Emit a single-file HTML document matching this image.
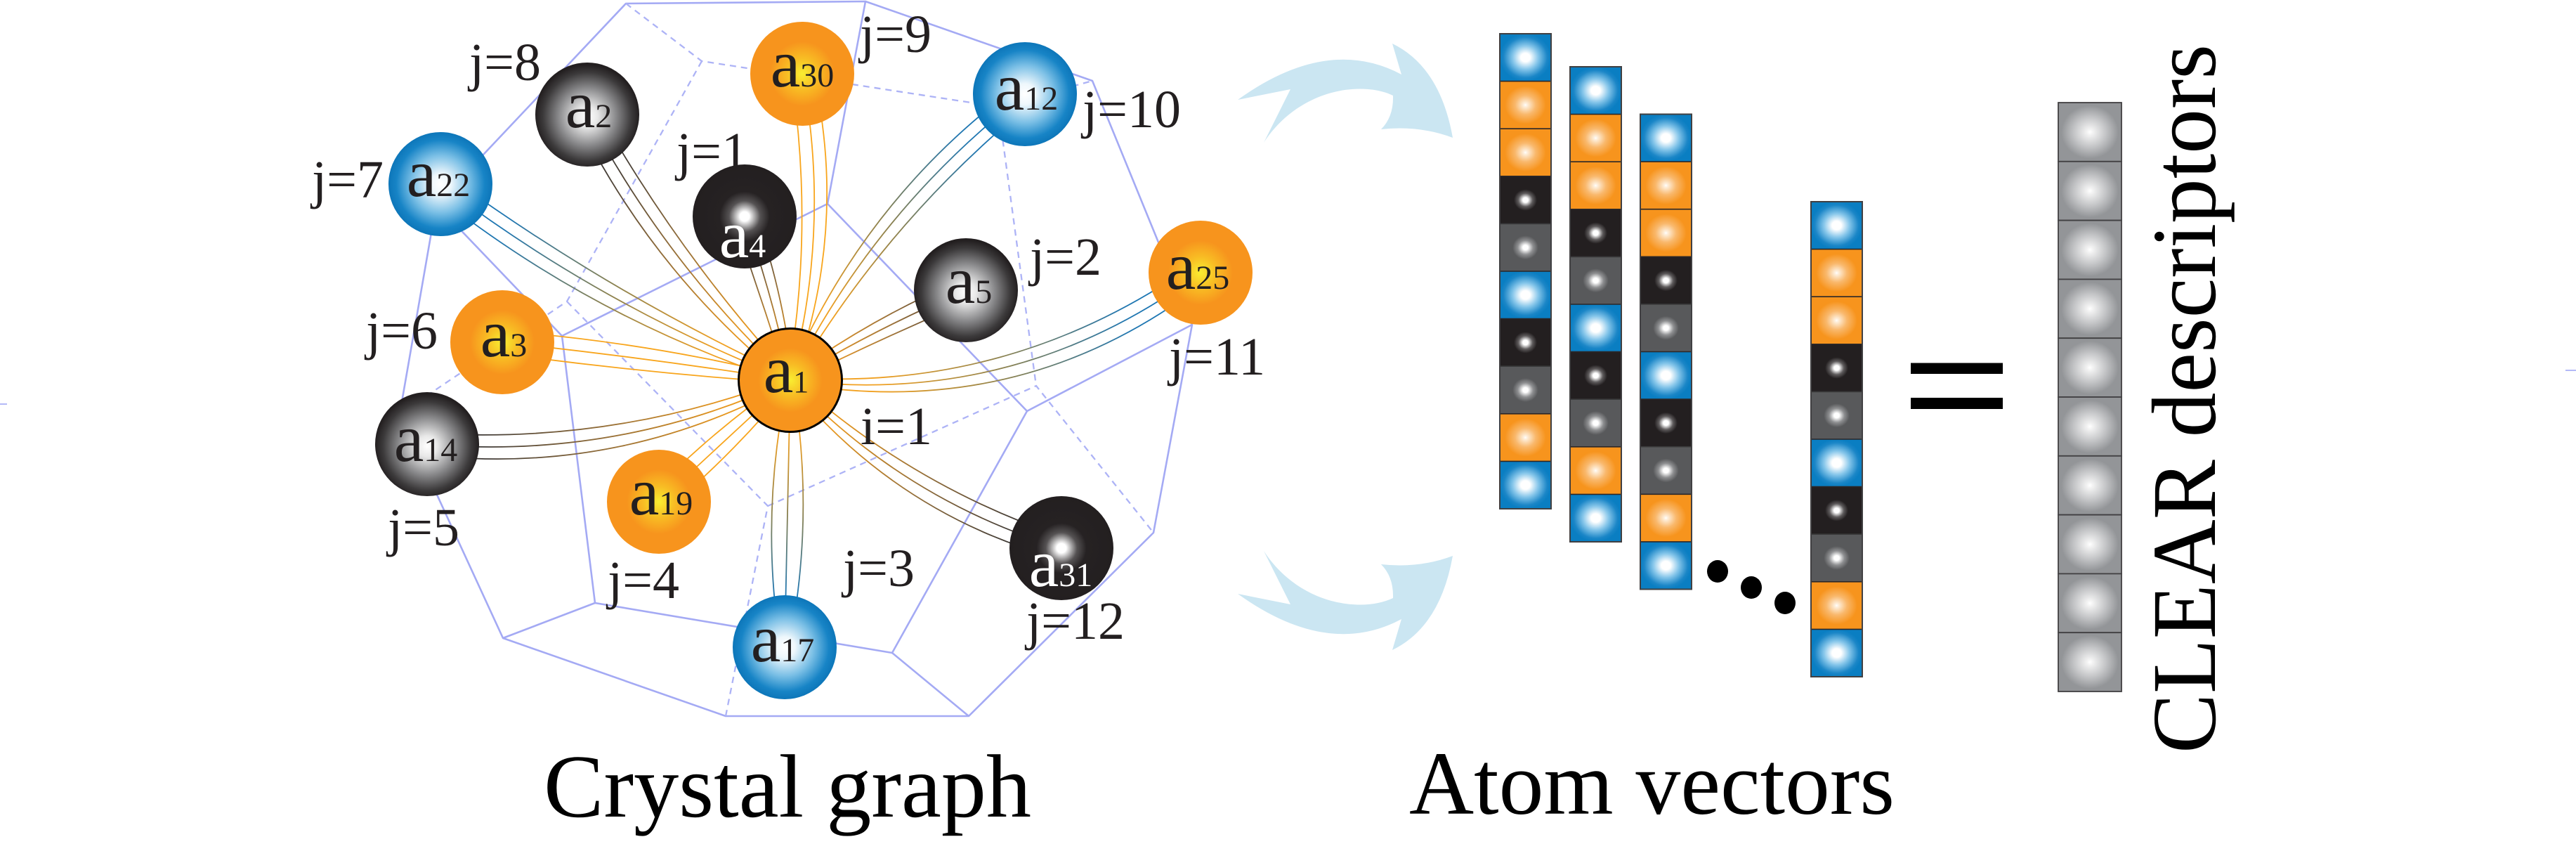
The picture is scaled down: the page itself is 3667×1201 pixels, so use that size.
<!DOCTYPE html>
<html><head><meta charset="utf-8"><style>
html,body{margin:0;padding:0;background:#fff;}
body{width:3667px;height:1201px;overflow:hidden;}
svg{display:block;}
text{font-family:"Liberation Serif","Times New Roman",serif;fill:#231f20;}
</style></head><body>
<svg width="3667" height="1201" viewBox="0 0 3667 1201" xmlns="http://www.w3.org/2000/svg" font-family="Liberation Serif, serif">
<defs>
<radialGradient id="nO" cx="50%" cy="50%" r="50%"><stop offset="0" stop-color="#f9ee31"/><stop offset="0.3" stop-color="#f8bd24"/><stop offset="0.62" stop-color="#f7941d"/><stop offset="1" stop-color="#f7941d"/></radialGradient>
<radialGradient id="nB" cx="50%" cy="50%" r="50%"><stop offset="0" stop-color="#ffffff"/><stop offset="0.2" stop-color="#eef7fc"/><stop offset="0.55" stop-color="#7cc0e6"/><stop offset="0.85" stop-color="#1784c6"/><stop offset="1" stop-color="#0d76b9"/></radialGradient>
<radialGradient id="nG" cx="50%" cy="52%" r="50%"><stop offset="0" stop-color="#ffffff"/><stop offset="0.2" stop-color="#e8e8e8"/><stop offset="0.55" stop-color="#8a8a8c"/><stop offset="0.85" stop-color="#3c3a3b"/><stop offset="1" stop-color="#231f20"/></radialGradient>
<radialGradient id="nK" cx="50%" cy="50%" r="50%"><stop offset="0" stop-color="#ffffff"/><stop offset="0.09" stop-color="#ffffff"/><stop offset="0.3" stop-color="#555253"/><stop offset="0.48" stop-color="#262223"/><stop offset="1" stop-color="#231f20"/></radialGradient>

<radialGradient id="cB" cx="50%" cy="50%" r="50%"><stop offset="0" stop-color="#ffffff"/><stop offset="0.18" stop-color="#ffffff"/><stop offset="0.5" stop-color="#86c6ea"/><stop offset="0.85" stop-color="#1b86c7"/><stop offset="1" stop-color="#0a7ec2"/></radialGradient>
<radialGradient id="cO" cx="50%" cy="50%" r="50%"><stop offset="0" stop-color="#ffffff"/><stop offset="0.06" stop-color="#fef1e0"/><stop offset="0.4" stop-color="#f9b86c"/><stop offset="0.8" stop-color="#f7941d"/><stop offset="1" stop-color="#f7941d"/></radialGradient>
<radialGradient id="cK" cx="50%" cy="50%" r="50%"><stop offset="0" stop-color="#ffffff"/><stop offset="0.1" stop-color="#ffffff"/><stop offset="0.28" stop-color="#5e5b5c"/><stop offset="0.45" stop-color="#231f20"/><stop offset="1" stop-color="#231f20"/></radialGradient>
<radialGradient id="cG" cx="50%" cy="50%" r="50%"><stop offset="0" stop-color="#ffffff"/><stop offset="0.1" stop-color="#ffffff"/><stop offset="0.3" stop-color="#8e8f91"/><stop offset="0.5" stop-color="#58595b"/><stop offset="1" stop-color="#58595b"/></radialGradient>
<radialGradient id="cC" cx="50%" cy="50%" r="50%"><stop offset="0" stop-color="#ffffff"/><stop offset="0.1" stop-color="#f2f2f2"/><stop offset="0.5" stop-color="#c4c5c7"/><stop offset="0.9" stop-color="#939598"/><stop offset="1" stop-color="#939598"/></radialGradient>

<linearGradient id="g12" gradientUnits="userSpaceOnUse" x1="1125" y1="541" x2="1459" y2="134"><stop offset="0" stop-color="#f7a21c"/><stop offset="0.2" stop-color="#f0a021"/><stop offset="0.5" stop-color="#8a8150"/><stop offset="0.8" stop-color="#2277b0"/><stop offset="1" stop-color="#0f74b8"/></linearGradient>
<linearGradient id="g22" gradientUnits="userSpaceOnUse" x1="1125" y1="541" x2="627" y2="262"><stop offset="0" stop-color="#f7a21c"/><stop offset="0.2" stop-color="#f0a021"/><stop offset="0.5" stop-color="#8a8150"/><stop offset="0.8" stop-color="#2277b0"/><stop offset="1" stop-color="#0f74b8"/></linearGradient>
<linearGradient id="g25" gradientUnits="userSpaceOnUse" x1="1125" y1="541" x2="1709" y2="388"><stop offset="0" stop-color="#f7a21c"/><stop offset="0.2" stop-color="#f0a021"/><stop offset="0.5" stop-color="#8a8150"/><stop offset="0.8" stop-color="#2277b0"/><stop offset="1" stop-color="#0f74b8"/></linearGradient>
<linearGradient id="g17" gradientUnits="userSpaceOnUse" x1="1125" y1="541" x2="1117" y2="921"><stop offset="0" stop-color="#f7a21c"/><stop offset="0.2" stop-color="#f0a021"/><stop offset="0.5" stop-color="#8a8150"/><stop offset="0.8" stop-color="#2277b0"/><stop offset="1" stop-color="#0f74b8"/></linearGradient>
<linearGradient id="g2" gradientUnits="userSpaceOnUse" x1="1125" y1="541" x2="836" y2="163"><stop offset="0" stop-color="#f7a21c"/><stop offset="0.2" stop-color="#e5961f"/><stop offset="0.55" stop-color="#8c6a3a"/><stop offset="0.85" stop-color="#3f3a36"/><stop offset="1" stop-color="#2e2b2b"/></linearGradient>
<linearGradient id="g4" gradientUnits="userSpaceOnUse" x1="1125" y1="541" x2="1060" y2="308"><stop offset="0" stop-color="#f7a21c"/><stop offset="0.3" stop-color="#c8892a"/><stop offset="0.6" stop-color="#8c6a3a"/><stop offset="0.85" stop-color="#3f3a36"/><stop offset="1" stop-color="#2e2b2b"/></linearGradient>
<linearGradient id="g5" gradientUnits="userSpaceOnUse" x1="1125" y1="541" x2="1375" y2="413"><stop offset="0" stop-color="#f7a21c"/><stop offset="0.3" stop-color="#d8902a"/><stop offset="0.6" stop-color="#9a713a"/><stop offset="0.85" stop-color="#5a4632"/><stop offset="1" stop-color="#2e2b2b"/></linearGradient>
<linearGradient id="g14" gradientUnits="userSpaceOnUse" x1="1125" y1="541" x2="608" y2="632"><stop offset="0" stop-color="#f7a21c"/><stop offset="0.2" stop-color="#e5961f"/><stop offset="0.55" stop-color="#8c6a3a"/><stop offset="0.85" stop-color="#3f3a36"/><stop offset="1" stop-color="#2e2b2b"/></linearGradient>
<linearGradient id="g31" gradientUnits="userSpaceOnUse" x1="1125" y1="541" x2="1511" y2="780"><stop offset="0" stop-color="#f7a21c"/><stop offset="0.2" stop-color="#e5961f"/><stop offset="0.55" stop-color="#8c6a3a"/><stop offset="0.85" stop-color="#3f3a36"/><stop offset="1" stop-color="#2e2b2b"/></linearGradient>

<g id="col">
<rect x="0" y="0" width="73" height="67.6" fill="url(#cB)"/>
<rect x="0" y="67.6" width="73" height="67.6" fill="url(#cO)"/>
<rect x="0" y="135.2" width="73" height="67.6" fill="url(#cO)"/>
<rect x="0" y="202.8" width="73" height="67.6" fill="url(#cK)"/>
<rect x="0" y="270.4" width="73" height="67.6" fill="url(#cG)"/>
<rect x="0" y="338" width="73" height="67.6" fill="url(#cB)"/>
<rect x="0" y="405.6" width="73" height="67.6" fill="url(#cK)"/>
<rect x="0" y="473.2" width="73" height="67.6" fill="url(#cG)"/>
<rect x="0" y="540.8" width="73" height="67.6" fill="url(#cO)"/>
<rect x="0" y="608.4" width="73" height="67.6" fill="url(#cB)"/>
<g stroke="#2b2728" stroke-width="1.6">
<line x1="0" y1="67.6" x2="73" y2="67.6"/><line x1="0" y1="135.2" x2="73" y2="135.2"/><line x1="0" y1="202.8" x2="73" y2="202.8"/><line x1="0" y1="270.4" x2="73" y2="270.4" stroke="#3a3a3b"/><line x1="0" y1="338" x2="73" y2="338"/><line x1="0" y1="405.6" x2="73" y2="405.6"/><line x1="0" y1="473.2" x2="73" y2="473.2" stroke="#3a3a3b"/><line x1="0" y1="540.8" x2="73" y2="540.8"/><line x1="0" y1="608.4" x2="73" y2="608.4"/>
</g>
<rect x="0" y="0" width="73" height="676" fill="none" stroke="#414042" stroke-width="2"/>
</g>
</defs>

<!-- edge ticks -->
<line x1="0" y1="575" x2="10" y2="575" stroke="#b4b9f7" stroke-width="2"/>
<line x1="3652" y1="527" x2="3667" y2="527" stroke="#b4b9f7" stroke-width="2"/>

<!-- wireframe -->
<g fill="none" stroke="#a4aaf4" stroke-width="2.6" stroke-linejoin="round">
<polygon points="891,5 1232,2 1555,115 1697,462 1642,758 1379,1019 1033,1019 716,908 569,589 621,291"/>
<polyline points="621,291 800,478 847,858 716,908"/>
<line x1="847" y1="858" x2="1270" y2="929"/>
<line x1="800" y1="478" x2="1178" y2="290"/>
<line x1="1178" y1="290" x2="1232" y2="2"/>
<line x1="1178" y1="290" x2="1462" y2="585"/>
<line x1="1462" y1="585" x2="1697" y2="462"/>
<polyline points="1462,585 1270,929 1379,1019"/>
</g>
<g fill="none" stroke="#adb3f6" stroke-width="2.3" stroke-dasharray="9 7">
<polyline points="891,5 999,87 1421,152 1555,115"/>
<line x1="1421" y1="152" x2="1475" y2="549"/>
<polyline points="999,87 807,429 569,589"/>
<polyline points="807,429 1093,720 1033,1019"/>
<polyline points="1093,720 1475,549 1642,758"/>
</g>

<!-- bonds -->
<g fill="none" stroke-width="1.8">
<g stroke="#f8a51c">
<path d="M1121,541 Q1159.5,324 1126,104.4"/><path d="M1125,541 Q1183.5,325 1142,105"/><path d="M1129,541.2 Q1207.5,325.9 1158,105.6"/>
<path d="M1124.5,545 Q917.8,530.9 712.9,502.9"/><path d="M1125,541 Q920.7,509 715,487"/><path d="M1125.5,537 Q923.5,487.2 717.1,471.1"/>
<path d="M1127.7,543.9 Q1046.4,643.6 948.9,725.7"/><path d="M1125,541 Q1031.5,627.5 938,714"/><path d="M1122.3,538.1 Q1016.6,611.4 927.1,702.3"/>
</g>
<g stroke="url(#g12)"><path d="M1121.9,538.5 Q1228.6,285.5 1446.6,123.9"/><path d="M1125,541 Q1245.6,299.5 1459,134"/><path d="M1128.1,543.5 Q1262.6,313.4 1471.4,144.1"/></g>
<g stroke="url(#g2)"><path d="M1121.8,543.4 Q931.3,389.6 823.3,172.7"/><path d="M1125,541 Q948.7,376.3 836,163"/><path d="M1128.2,538.6 Q966.2,362.9 848.7,153.3"/></g>
<g stroke="url(#g22)"><path d="M1123,544.5 Q845.7,455.6 619.2,276"/><path d="M1125,541 Q856.4,436.4 627,262"/><path d="M1127,537.5 Q867.2,417.2 634.8,248"/></g>
<g stroke="url(#g4)"><path d="M1121.1,542.1 Q1084.8,426.7 1044.6,312.3"/><path d="M1125,541 Q1100.2,422.3 1060,308"/><path d="M1128.9,539.9 Q1115.6,418 1075.4,303.7"/></g>
<g stroke="url(#g5)"><path d="M1123.2,537.4 Q1238.1,453.9 1367.7,398.8"/><path d="M1125,541 Q1245.4,468.1 1375,413"/><path d="M1126.8,544.6 Q1252.7,482.3 1382.3,427.2"/></g>
<g stroke="url(#g25)"><path d="M1124,537.1 Q1441.8,559.3 1705,372.5"/><path d="M1125,541 Q1447.4,580.5 1709,388"/><path d="M1126,544.9 Q1452.9,601.8 1713,403.5"/></g>
<g stroke="url(#g14)"><path d="M1125.7,544.9 Q882.4,677.1 610.8,647.8"/><path d="M1125,541 Q878.6,655.4 608,632"/><path d="M1124.3,537.1 Q874.8,633.8 605.2,616.2"/></g>
<g stroke="url(#g31)"><path d="M1127.1,537.6 Q1298,692.8 1519.4,766.4"/><path d="M1125,541 Q1286.4,711.5 1511,780"/><path d="M1122.9,544.4 Q1274.8,730.2 1502.6,793.6"/></g>
<g stroke="url(#g17)"><path d="M1128,541 Q1161,731.8 1123,921"/><path d="M1125,541 Q1121,731 1117,921"/><path d="M1122,541 Q1081,730.2 1111,921"/></g>
</g>

<!-- nodes -->
<circle cx="1142" cy="105" r="74" fill="url(#nO)"/>
<circle cx="1459" cy="134" r="74" fill="url(#nB)"/>
<circle cx="836" cy="163" r="74" fill="url(#nG)"/>
<circle cx="627" cy="262" r="74" fill="url(#nB)"/>
<circle cx="1060" cy="308" r="74" fill="url(#nK)"/>
<circle cx="1375" cy="413" r="74" fill="url(#nG)"/>
<circle cx="1709" cy="388" r="74" fill="url(#nO)"/>
<circle cx="715" cy="487" r="74" fill="url(#nO)"/>
<circle cx="608" cy="632" r="74" fill="url(#nG)"/>
<circle cx="938" cy="714" r="74" fill="url(#nO)"/>
<circle cx="1511" cy="780" r="74" fill="url(#nK)"/>
<circle cx="1117" cy="921" r="74" fill="url(#nB)"/>
<circle cx="1125" cy="541" r="73.5" fill="url(#nO)" stroke="#000" stroke-width="3"/>

<!-- node labels -->
<g font-size="96" text-anchor="middle">
<text x="1142" y="123">a<tspan font-size="48">30</tspan></text>
<text x="1461" y="156">a<tspan font-size="48">12</tspan></text>
<text x="838" y="181">a<tspan font-size="48">2</tspan></text>
<text x="624" y="279">a<tspan font-size="48">22</tspan></text>
<text x="1057" y="366" style="fill:#fff">a<tspan font-size="48">4</tspan></text>
<text x="1379" y="431">a<tspan font-size="48">5</tspan></text>
<text x="1705" y="411">a<tspan font-size="48">25</tspan></text>
<text x="717" y="507">a<tspan font-size="48">3</tspan></text>
<text x="606" y="656">a<tspan font-size="48">14</tspan></text>
<text x="1119" y="558">a<tspan font-size="44">1</tspan></text>
<text x="941" y="732">a<tspan font-size="48">19</tspan></text>
<text x="1114" y="941">a<tspan font-size="48">17</tspan></text>
<text x="1510" y="834" style="fill:#fff">a<tspan font-size="48">31</tspan></text>
</g>

<!-- j labels -->
<g font-size="76">
<text x="668" y="114">j=8</text>
<text x="444" y="281">j=7</text>
<text x="963" y="241">j=1</text>
<text x="521" y="496">j=6</text>
<text x="1224" y="74">j=9</text>
<text x="1541" y="181">j=10</text>
<text x="1466" y="391">j=2</text>
<text x="1664" y="533">j=11</text>
<text x="1225" y="632">i=1</text>
<text x="552" y="776">j=5</text>
<text x="865" y="851">j=4</text>
<text x="1200" y="834">j=3</text>
<text x="1461" y="909">j=12</text>
</g>

<!-- arrows -->
<g fill="#cbe6f2">
<path d="M1762,142 Q1890,50 1995,106 L1982,62 Q2050,95 2068,196 Q2020,178 1966,184 Q1984,166 1983,136 C1940,115 1850,125 1799,203 L1837,127 Z"/>
<path transform="translate(0,987) scale(1,-1)" d="M1762,142 Q1890,50 1995,106 L1982,62 Q2050,95 2068,196 Q2020,178 1966,184 Q1984,166 1983,136 C1940,115 1850,125 1799,203 L1837,127 Z"/>
</g>

<!-- atom vectors -->
<use href="#col" x="2135" y="48"/>
<use href="#col" x="2235" y="95"/>
<use href="#col" x="2335" y="162.5"/>
<use href="#col" x="2578" y="287"/>
<ellipse cx="2445" cy="813" rx="15" ry="16" fill="#000"/>
<ellipse cx="2493" cy="836" rx="15" ry="16" fill="#000"/>
<ellipse cx="2541" cy="858" rx="15" ry="16" fill="#000"/>

<!-- equals -->
<rect x="2720" y="516.5" width="131" height="15.5" fill="#000"/>
<rect x="2720" y="566" width="131" height="16" fill="#000"/>

<!-- CLEAR column -->
<g stroke="#414042" stroke-width="1.8">
<rect x="2930" y="146" width="90" height="83.8" fill="url(#cC)"/>
<rect x="2930" y="229.8" width="90" height="83.8" fill="url(#cC)"/>
<rect x="2930" y="313.6" width="90" height="83.8" fill="url(#cC)"/>
<rect x="2930" y="397.4" width="90" height="83.8" fill="url(#cC)"/>
<rect x="2930" y="481.2" width="90" height="83.8" fill="url(#cC)"/>
<rect x="2930" y="565" width="90" height="83.8" fill="url(#cC)"/>
<rect x="2930" y="648.8" width="90" height="83.8" fill="url(#cC)"/>
<rect x="2930" y="732.6" width="90" height="83.8" fill="url(#cC)"/>
<rect x="2930" y="816.4" width="90" height="83.8" fill="url(#cC)"/>
<rect x="2930" y="900.2" width="90" height="83.8" fill="url(#cC)"/>
</g>

<!-- captions -->
<text x="774" y="1162" font-size="128" textLength="694" lengthAdjust="spacingAndGlyphs" style="fill:#000">Crystal graph</text>
<text x="2006" y="1158" font-size="128" textLength="691" lengthAdjust="spacingAndGlyphs" style="fill:#000">Atom vectors</text>
<text transform="translate(3153,1072) rotate(-90)" font-size="130" textLength="1009" lengthAdjust="spacingAndGlyphs" style="fill:#000">CLEAR descriptors</text>
</svg>
</body></html>
